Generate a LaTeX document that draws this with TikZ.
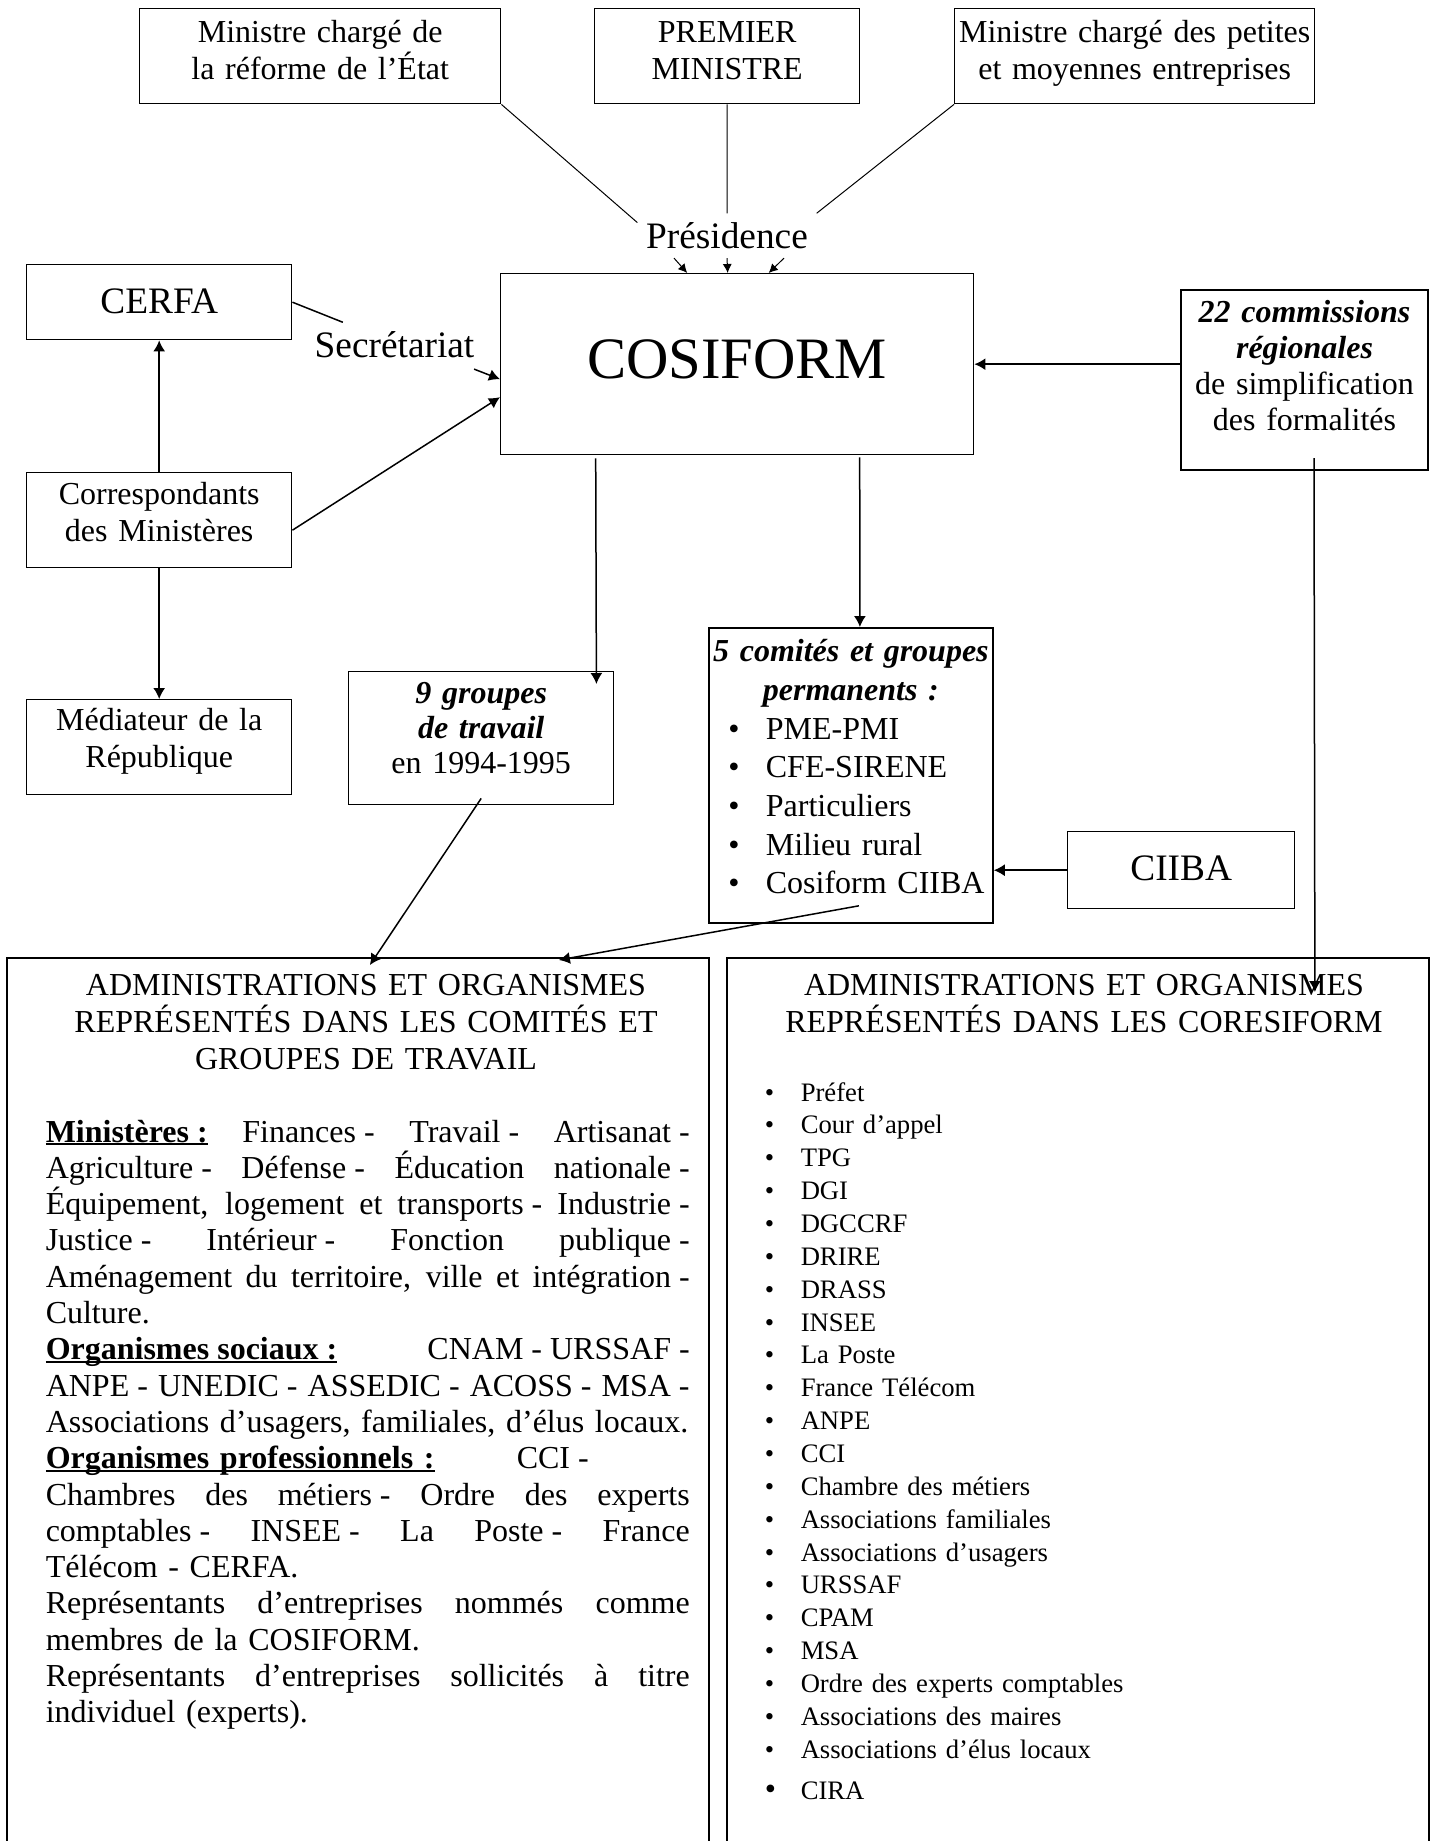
\documentclass[tikz,border=0pt]{standalone}
\usepackage{fontspec}
\setmainfont{Liberation Serif}
\usetikzlibrary{positioning, calc, arrows.meta}

\newcommand{\txtnormal}{\fontsize{16}{18.5}\selectfont}
\newcommand{\txtgrand}{\fontsize{18.67}{22}\selectfont}
\newcommand{\txtcosi}{\fontsize{29.33}{34}\selectfont}
\newcommand{\txtpetit}{\fontsize{13.33}{16.43}\selectfont}
\newcommand{\tiret}{\hspace{0.25em}-}
\newcommand{\rubrique}[1]{\textbf{\setbox0\hbox{#1}\rlap{\rule[-1.6pt]{\wd0}{0.9pt}}\box0}}
\newcommand{\ligne}[1]{{\spaceskip=0.25em plus 1fil\relax\makebox[322pt][s]{#1}}}
\newcommand{\fin}[1]{\makebox[322pt][l]{#1}}
\newcommand{\puce}{\makebox[18pt][l]{\textbullet}}
\newcommand{\elem}[1]{\makebox[142pt][l]{\hspace*{9.75pt}\makebox[18.75pt][l]{\textbullet}#1}}

\begin{document}
\begin{tikzpicture}[
        x = 0.5pt,
        y = -0.5pt,
        -{Latex[length = 5.5pt, width = 6pt]},
        line width = 0.75pt,
        every node/.style = {font = \txtnormal},
        cadre/.style = {draw, line width = 0.7pt, inner sep = 0pt, align = center, anchor = north west},
        freetext/.style = {draw = none, inner sep = 4pt, font = \txtgrand}]

      \useasboundingbox (0,0) rectangle (1437,1841);

      %ministres, premier ministre
      \node[cadre, text width = 180.5pt, text height = 17pt, text depth = 30.5pt]
        (MinReforme) at (139, 8) {Ministre chargé de\\la réforme de l’État};
      \node[cadre, text width = 132.5pt, text height = 17pt, text depth = 30.5pt]
        (PremierMin) at (594, 8) {PREMIER\\MINISTRE};
      \node[cadre, text width = 180pt, text height = 17pt, text depth = 30.5pt]
        (MinPME) at (954, 8) {Ministre chargé des petites\\et moyennes entreprises};
      \node[freetext, anchor = base] (Presidence) at (727, 248) {Présidence};

      %cosiform
      \node[cadre, font = \txtcosi, text width = 236.5pt, text height = 52.5pt, text depth = 38pt]
        (Cosiform) at (500, 273) {COSIFORM};

      %left column
      \node[cadre, font = \txtgrand, text width = 132.5pt, text height = 24.25pt, text depth = 13.25pt]
        (Cerfa) at (26, 264) {CERFA};
      \node[freetext, anchor = base] (Secretariat) at (394.5, 357) {Secrétariat};
      \node[cadre, text width = 132.5pt, text height = 16pt, text depth = 31.5pt]
        (Correspondants) at (26, 472) {Correspondants\\des Ministères};
      \node[cadre, text width = 132.5pt, text height = 15.5pt, text depth = 32pt]
        (Mediateur) at (26, 699) {Médiateur de la\\République};

      %groupes et comites
      \node[cadre, font = \fontsize{16}{17.5}\selectfont, text width = 132.5pt, text height = 16pt, text depth = 50.5pt]
        (Groupes) at (348, 671) {\textbf{\textit{9 groupes\\de travail}}\\en 1994-1995};
      \node[cadre, line width = 0.9pt, font = \fontsize{16}{19.33}\selectfont, text width = 142pt, text height = 17pt, text depth = 130.5pt]
        (Comites) at (708, 627) {{\bfseries\itshape 5 comités et groupes\\permanents :}\\
        \elem{PME-PMI}\\\elem{CFE-SIRENE}\\\elem{Particuliers}\\\elem{Milieu rural}\\\elem{Cosiform CIIBA}};
      \node[cadre, font = \txtgrand, text width = 113.5pt, text height = 24.5pt, text depth = 14pt]
        (Ciiba) at (1067, 831) {CIIBA};

      %commissions regionales
      \node[cadre, line width = 1pt, font = \fontsize{16}{18}\selectfont, text width = 123.5pt, text height = 16pt, text depth = 74pt]
        (Commissions) at (1180, 289) {\textbf{\textit{22 commissions\\régionales}}\\de simplification\\des formalités};

      %administrations et organismes
      \node[cadre, line width = 0.9pt, minimum width = 351pt, minimum height = 444.5pt]
        (AdminComites) at (6, 957) {};
      \node[cadre, line width = 0.9pt, minimum width = 351pt, minimum height = 444.5pt]
        (AdminCoresiform) at (726, 957) {};

      \node[anchor = base, align = center, text width = 340pt, inner sep = 0pt]
        (TitreComites) at (366, 995)
        {ADMINISTRATIONS ET ORGANISMES\\REPRÉSENTÉS DANS LES COMITÉS ET\\GROUPES DE TRAVAIL};
      \node[anchor = base west, align = left, text width = 322pt, inner sep = 0pt, font = \fontsize{16}{18.15}\selectfont]
        (CorpsComites) at (45, 1142) {%
        \ligne{\rubrique{Ministères :} Finances\tiret{} Travail\tiret{} Artisanat\tiret}\\
        \ligne{Agriculture\tiret{} Défense\tiret{} Éducation nationale\tiret}\\
        \ligne{Équipement, logement et transports\tiret{} Industrie\tiret}\\
        \ligne{Justice\tiret{} Intérieur\tiret{} Fonction publique\tiret}\\
        \ligne{Aménagement du territoire, ville et intégration\tiret}\\
        \fin{Culture.}\\
        \ligne{\rubrique{Organismes sociaux :}\hfill CNAM\tiret{} URSSAF\tiret}\\
        \ligne{ANPE\tiret{} UNEDIC\tiret{} ASSEDIC\tiret{} ACOSS\tiret{} MSA\tiret}\\
        \fin{Associations d’usagers, familiales, d’élus locaux.}\\
        \fin{\makebox[235.5pt][l]{\rubrique{Organismes professionnels :}}CCI\tiret}\\
        \ligne{Chambres des métiers\tiret{} Ordre des experts}\\
        \ligne{comptables\tiret{} INSEE\tiret{} La Poste\tiret{} France}\\
        \fin{Télécom - CERFA.}\\
        \ligne{Représentants d’entreprises nommés comme}\\
        \fin{membres de la COSIFORM.}\\
        \ligne{Représentants d’entreprises sollicités à titre}\\
        \fin{individuel (experts).}};

      \node[anchor = base, align = center, text width = 340pt, inner sep = 0pt]
        (TitreCoresiform) at (1084, 995)
        {ADMINISTRATIONS ET ORGANISMES\\REPRÉSENTÉS DANS LES CORESIFORM};
      \node[anchor = base west, align = left, text width = 300pt, inner sep = 0pt, font = \txtpetit]
        (ListeCoresiform) at (764, 1101) {%
        \puce Préfet\\
        \puce Cour d’appel\\
        \puce TPG\\
        \puce DGI\\
        \puce DGCCRF\\
        \puce DRIRE\\
        \puce DRASS\\
        \puce INSEE\\
        \puce La Poste\\
        \puce France Télécom\\
        \puce ANPE\\
        \puce CCI\\
        \puce Chambre des métiers\\
        \puce Associations familiales\\
        \puce Associations d’usagers\\
        \puce URSSAF\\
        \puce CPAM\\
        \puce MSA\\
        \puce Ordre des experts comptables\\
        \puce Associations des maires\\
        \puce Associations d’élus locaux\\[4.07pt]
        {\fontsize{16}{16}\selectfont\puce}CIRA};

      \begin{scope}[-]
      %lines toward the presidence
        \path[line width = 0.5pt]
        (MinReforme.south east) edge (Presidence.172)
        (PremierMin) edge (Presidence)
        (MinPME.south west) edge (Presidence.north east)
        ;
      %secretariat
        \path
        (Cerfa.east) edge (Secretariat.157)
        ;
      \end{scope}

      \begin{scope}
      %arrows into the cosiform
        \path[line width = 0.5pt, -{Latex[length = 4.5pt, width = 4.5pt]}]
        ($(Presidence.south)+(-53,1)$) edge ($(Cosiform.north)+(-50,0)$)
        ($(Presidence.south)+(0,1)$) edge ($(Cosiform.north)+(-9.5,0)$)
        ($(Presidence.south)+(57,1)$) edge ($(Cosiform.north)+(31.5,0)$)
        ;
        \path
        ($(Secretariat.south east)+(-9,3)$) edge ($(Cosiform.west)+(0,15)$)
        ($(Correspondants.east)+(0,10)$) edge ($(Cosiform.west)+(0,33)$)
        (Commissions.west |- Cosiform.east) edge (Cosiform.east)
        ;
      %arrows from the cosiform
        \path
        ($(Cosiform.south)+(-141.5,3)$) edge ($(Groupes.north east)+(-18,13)$)
        ($(Cosiform.south)+(122.5,2)$) edge ($(Comites.north)+(9,0)$)
        ;
      %correspondants
        \path
        (Correspondants) edge (Cerfa)
        (Correspondants) edge (Mediateur)
        ;
      %toward the administrations
        \path
        (Ciiba.west) edge (Comites.east |- Ciiba.west)
        ($(Groupes.south)+(0,-7)$) edge ($(AdminComites.north)+(12,8)$)
        ($(Comites.south)+(8,-18)$) edge ($(AdminComites.north)+(201,3)$)
        ($(Commissions.south)+(9.5,-13)$) edge ($(AdminCoresiform.north)+(237,35)$)
        ;
      \end{scope}
\end{tikzpicture}
\end{document}
